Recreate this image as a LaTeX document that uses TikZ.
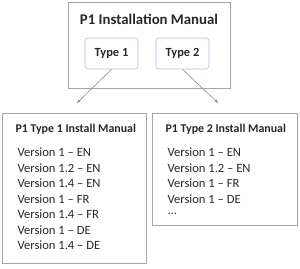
\documentclass[tikz,border=0pt]{standalone}
\usepackage{fontspec}
\setmainfont{Carlito}
\usetikzlibrary{shadows,arrows.meta}
\definecolor{tb}{RGB}{170,195,225}
\definecolor{tx}{RGB}{40,40,40}
\begin{document}
\begin{tikzpicture}[x=1pt,y=-1pt,
  outerbox/.style={draw=black!35,fill=white,line width=0.8pt,drop shadow={shadow xshift=1.2pt,shadow yshift=-1.2pt,opacity=0.35}},
  typebox/.style={draw=tb,fill=white,rounded corners=3pt,line width=0.6pt,minimum width=53pt,minimum height=31pt,font=\bfseries\fontsize{12.4}{14}\selectfont,text=tx},
  ttl/.style={font=\bfseries\fontsize{11.9}{14}\selectfont,text=tx,anchor=west},
  ver/.style={font=\fontsize{12.6}{14}\selectfont,text=tx,anchor=west},
  conn/.style={draw=black!45,line width=0.6pt,-{Stealth[length=4pt,width=3pt]}}]
\useasboundingbox (0,0) rectangle (300,268);
\node[outerbox,minimum width=162pt,minimum height=86pt] (top) at (149,45) {};
\node[font=\bfseries\fontsize{14.8}{16}\selectfont,text=tx] (toptitle) at (149,19) {P1 Installation Manual};
\node[typebox] (t1) at (111.5,53.5) {Type 1};
\node[typebox] (t2) at (182.5,53.5) {Type 2};
\node[outerbox,minimum width=144pt,minimum height=150pt] (left) at (74,188) {};
\node[outerbox,minimum width=145pt,minimum height=112pt] (right) at (224.5,169) {};
\coordinate (a1) at (77,103);
\coordinate (a2) at (218,103);
\draw[conn] (t1.south) -- (a1);
\draw[conn] (t2.south) -- (a2);
\node[ttl] (lt) at (12,129) {P1 Type 1 Install Manual};
\node[ver] (l1) at (14,152) {Version 1 – EN};
\node[ver] (l2) at (14,168) {Version 1.2 – EN};
\node[ver] (l3) at (14,183) {Version 1.4 – EN};
\node[ver] (l4) at (14,199) {Version 1 – FR};
\node[ver] (l5) at (14,214) {Version 1.4 – FR};
\node[ver] (l6) at (14,230) {Version 1 – DE};
\node[ver] (l7) at (14,245) {Version 1.4 – DE};
\node[ttl] (rt) at (162,129) {P1 Type 2 Install Manual};
\node[ver] (r1) at (164,152) {Version 1 – EN};
\node[ver] (r2) at (164,168) {Version 1.2 – EN};
\node[ver] (r3) at (164,183) {Version 1 – FR};
\node[ver] (r4) at (164,199) {Version 1 – DE};
\node[ver] (r5) at (164,214) {...};
\end{tikzpicture}
\end{document}
